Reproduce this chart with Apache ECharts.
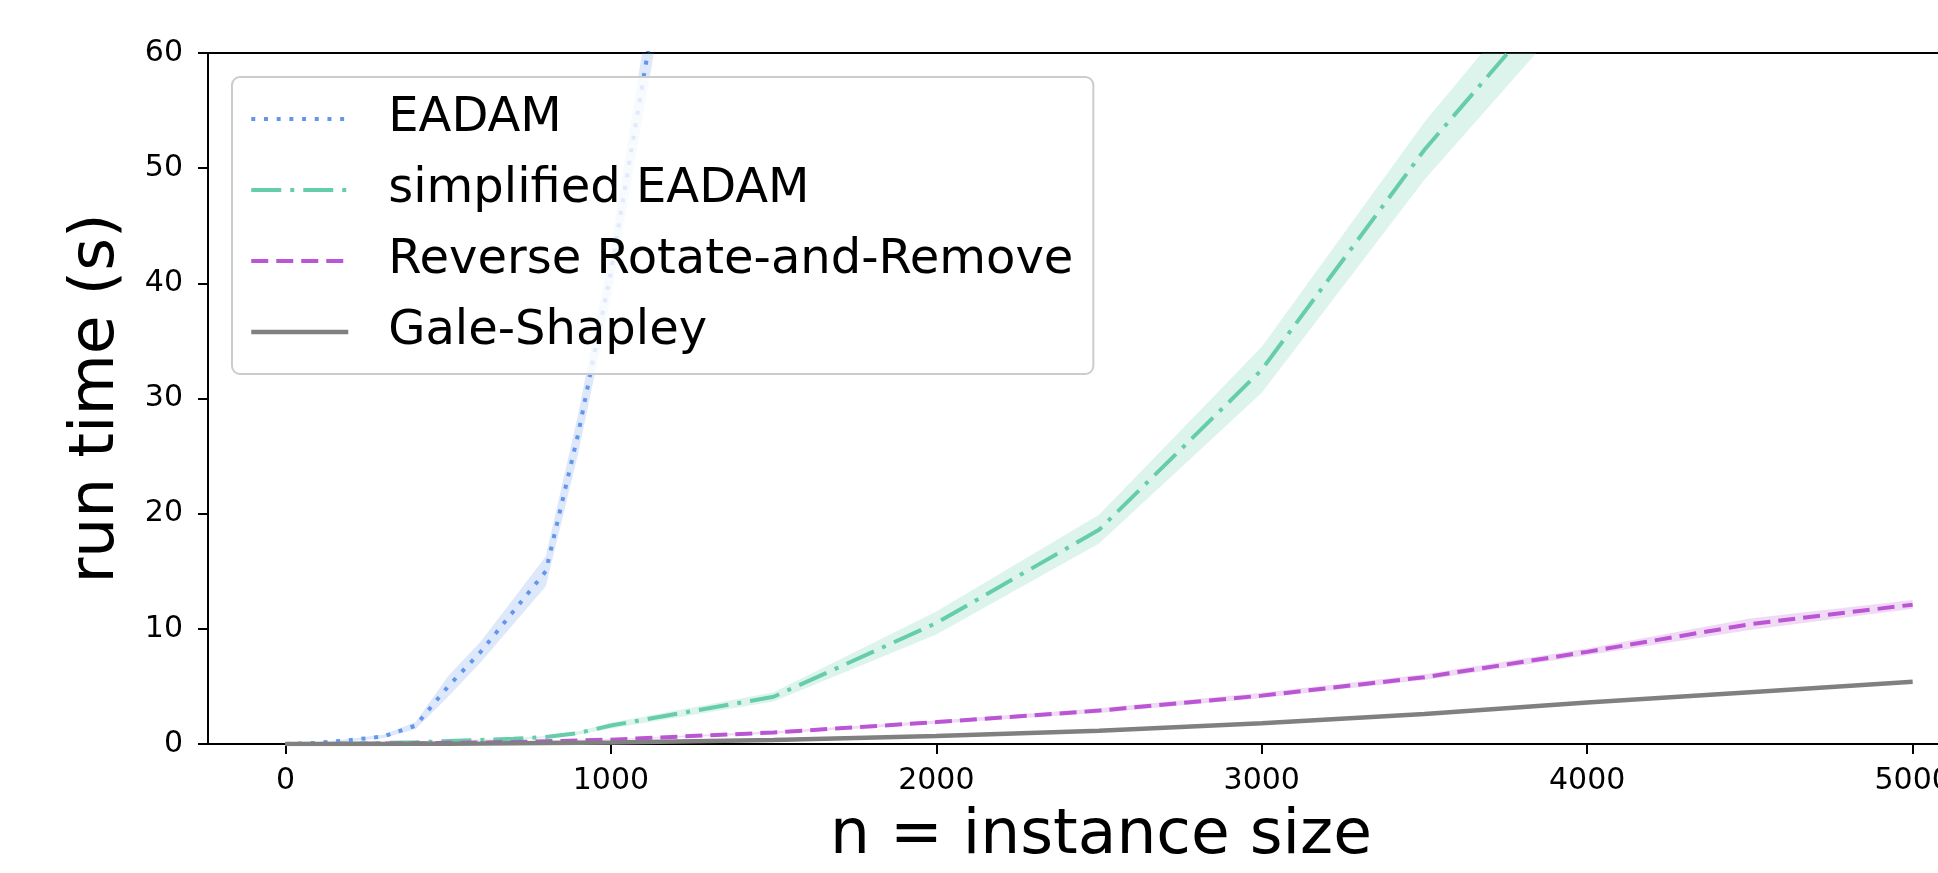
<!DOCTYPE html>
<html><head><meta charset="utf-8">
<script src="https://cdn.jsdelivr.net/npm/echarts@6/dist/echarts.min.js"></script>
<style>html,body{margin:0;padding:0;background:#fff;overflow:hidden;width:1938px;height:873px}#c{width:2000px;height:873px}</style>
</head><body><div id="c"></div>
<script>
// ---- data ----
const nValues   = [0, 100, 200, 300, 400, 500, 600, 700, 800, 900, 1000, 1500, 2000, 2500, 3000, 3500, 4000, 4500, 5000];
const xTicks    = [0, 1000, 2000, 3000, 4000, 5000];

const eadam     = [0, 0.1, 0.35, 0.65, 1.6, 5.0, 8.0, 11.5, 15.0, 27.0, 41.0, 125, null, null, null, null, null, null, null];
const eadamLo   = [0, 0.05, 0.25, 0.5, 1.3, 4.1, 7.1, 10.4, 13.7, 25.3, 38.8, 119, null, null, null, null, null, null, null];
const eadamHi   = [0, 0.15, 0.45, 0.8, 1.9, 5.9, 8.9, 12.6, 16.3, 28.7, 43.2, 131, null, null, null, null, null, null, null];

const simplified   = [0, 0.02, 0.05, 0.1, 0.15, 0.25, 0.35, 0.45, 0.6, 0.95, 1.6, 4.1, 10.5, 18.6, 32.5, 51.6, 68, null, null];
const simplifiedLo = [0, 0.01, 0.03, 0.07, 0.11, 0.19, 0.28, 0.37, 0.5, 0.8, 1.35, 3.7, 9.5, 17.4, 30.5, 49.0, 65, null, null];
const simplifiedHi = [0, 0.03, 0.07, 0.13, 0.19, 0.31, 0.42, 0.53, 0.7, 1.1, 1.85, 4.5, 11.5, 19.9, 34.5, 54.0, 71, null, null];

const rrr      = [0, 0.01, 0.02, 0.04, 0.06, 0.1, 0.13, 0.18, 0.24, 0.3, 0.38, 1.0, 1.9, 2.9, 4.2, 5.8, 8.0, 10.4, 12.1];
const rrrLo    = [0, 0.0, 0.01, 0.02, 0.04, 0.07, 0.1, 0.14, 0.19, 0.25, 0.32, 0.9, 1.75, 2.7, 4.0, 5.55, 7.7, 9.9, 11.75];
const rrrHi    = [0, 0.02, 0.03, 0.06, 0.08, 0.13, 0.16, 0.22, 0.29, 0.35, 0.44, 1.1, 2.05, 3.1, 4.45, 6.05, 8.3, 10.9, 12.5];

const gs       = [0, 0.002, 0.005, 0.01, 0.02, 0.03, 0.04, 0.06, 0.08, 0.1, 0.12, 0.35, 0.7, 1.15, 1.8, 2.6, 3.6, 4.5, 5.4];
const gsLo     = [0, 0.0, 0.0, 0.0, 0.01, 0.02, 0.03, 0.04, 0.06, 0.08, 0.1, 0.3, 0.62, 1.05, 1.7, 2.48, 3.48, 4.38, 5.27];
const gsHi     = [0, 0.004, 0.01, 0.02, 0.03, 0.04, 0.05, 0.08, 0.1, 0.12, 0.14, 0.4, 0.78, 1.25, 1.9, 2.72, 3.72, 4.62, 5.53];

const names = ['EADAM', 'simplified EADAM', 'Reverse Rotate-and-Remove', 'Gale-Shapley'];
const colors = ['#6495ED', '#66CDAA', '#BA55D3', '#808080'];
const bandColors = ['rgba(100,149,237,0.22)', 'rgba(102,205,170,0.22)', 'rgba(186,85,211,0.22)', 'rgba(128,128,128,0.22)'];
const dashes = [[4, 8.7], [30, 9, 4, 9], [17, 8], 'solid'];
const widths = [4, 4, 4, 4.5];

function pairs(ys) { return nValues.map((x, i) => [x, ys[i]]); }

function band(name, lo, hi, color) {
  return {
    type: 'custom', name: name, silent: true, z: 1,
    data: [[0, 0]],
    renderItem: function (params, api) {
      const pts = [];
      for (let i = 0; i < nValues.length; i++) if (hi[i] != null) pts.push(api.coord([nValues[i], hi[i]]));
      for (let i = nValues.length - 1; i >= 0; i--) if (lo[i] != null) pts.push(api.coord([nValues[i], lo[i]]));
      const cs = params.coordSys;
      return {
        type: 'polygon', shape: { points: pts }, style: { fill: color, stroke: null },
        clipPath: { type: 'rect', shape: { x: cs.x, y: cs.y, width: cs.width, height: cs.height } }
      };
    }
  };
}

function line(idx, ys) {
  return {
    type: 'line', name: names[idx], data: pairs(ys), symbol: 'none', showSymbol: false,
    connectNulls: false, clip: true, z: 3,
    lineStyle: { color: colors[idx], width: widths[idx], type: dashes[idx], cap: 'butt' },
    itemStyle: { color: colors[idx] }
  };
}

const font = 'DejaVu Sans';
const chart = echarts.init(document.getElementById('c'), null, { renderer: 'canvas' });
chart.setOption({
  animation: false,
  backgroundColor: '#ffffff',
  grid: { left: 208, top: 53, width: 1786, height: 696, show: true, borderColor: '#000', borderWidth: 2, backgroundColor: 'transparent' },
  xAxis: {
    type: 'value', min: -238, max: 5250,
    name: 'n = instance size', nameLocation: 'middle', nameGap: 61,
    nameTextStyle: { fontFamily: font, fontSize: 63, color: '#000' },
    axisLine: { show: true, onZero: false, lineStyle: { color: '#000', width: 2 } },
    axisTick: { show: true, length: 10, lineStyle: { color: '#000', width: 2 }, customValues: xTicks },
    axisLabel: { fontFamily: font, fontSize: 30, color: '#000', margin: 22, customValues: xTicks,
                 formatter: function (v) { return String(v); } },
    splitLine: { show: false }
  },
  yAxis: {
    type: 'value', min: 0, max: 60, interval: 10,
    name: 'run time (s)', nameLocation: 'middle', nameGap: 80, nameRotate: 90,
    nameTextStyle: { fontFamily: font, fontSize: 63, color: '#000' },
    axisLine: { show: true, onZero: false, lineStyle: { color: '#000', width: 2 } },
    axisTick: { show: true, length: 10, lineStyle: { color: '#000', width: 2 } },
    axisLabel: { fontFamily: font, fontSize: 30, color: '#000', margin: 25 },
    splitLine: { show: false }
  },
  legend: {
    orient: 'vertical', left: 232, top: 77,
    data: names.map((n, i) => ({
      name: n,
      itemStyle: { opacity: 0 },
      lineStyle: { color: colors[i], width: widths[i], type: dashes[i], cap: 'butt', opacity: 1 }
    })),
    itemWidth: 97, itemHeight: 20, itemGap: 15,
    padding: [14, 20, 14, 17],
    backgroundColor: 'rgba(255,255,255,0.8)', borderColor: '#cccccc', borderWidth: 2, borderRadius: 8,
    textStyle: { fontFamily: font, fontSize: 48, color: '#000', lineHeight: 56, padding: [0, 0, 0, 35] }
  },
  series: [
    band('bandEADAM', eadamLo, eadamHi, bandColors[0]),
    band('bandSimplified', simplifiedLo, simplifiedHi, bandColors[1]),
    band('bandRRR', rrrLo, rrrHi, bandColors[2]),
    band('bandGS', gsLo, gsHi, bandColors[3]),
    line(0, eadam),
    line(1, simplified),
    line(2, rrr),
    line(3, gs)
  ]
});
</script></body></html>
